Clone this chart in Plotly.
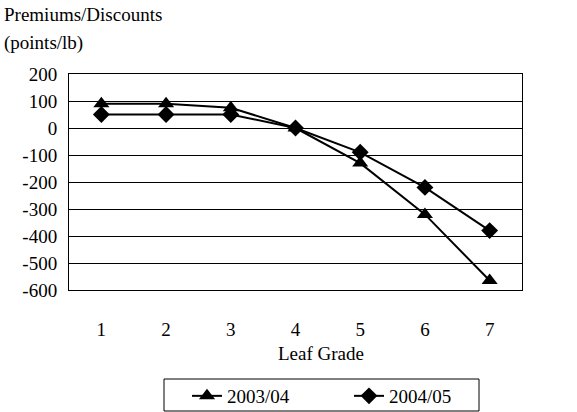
import plotly.graph_objects as go

grades = [1, 2, 3, 4, 5, 6, 7]
s2003 = [90, 90, 75, 0, -130, -320, -565]
s2004 = [50, 50, 50, 0, -90, -220, -380]
series_names = ["2003/04", "2004/05"]
y_ticks = [200, 100, 0, -100, -200, -300, -400, -500, -600]

FONT = "Liberation Serif, Times New Roman, serif"

fig = go.Figure()
fig.add_trace(go.Scatter(x=grades, y=s2003, name=series_names[0], mode="lines+markers",
                         line=dict(color="black", width=2),
                         marker=dict(symbol="triangle-up", size=14, color="black")))
fig.add_trace(go.Scatter(x=grades, y=s2004, name=series_names[1], mode="lines+markers",
                         line=dict(color="black", width=2),
                         marker=dict(symbol="diamond", size=13, color="black")))

fig.update_layout(
    width=577, height=412,
    margin=dict(l=69, r=55, t=74, b=122, autoexpand=False),
    paper_bgcolor="white", plot_bgcolor="white",
    font=dict(family=FONT, size=19, color="black"),
    showlegend=True,
    legend=dict(orientation="h", x=187/577, xref="container", xanchor="left",
                y=(412 - 377) / 412, yref="container", yanchor="top",
                borderwidth=0, bgcolor="rgba(0,0,0,0)", font=dict(size=19),
                entrywidth=117, entrywidthmode="pixels", tracegroupgap=0),
    xaxis=dict(range=[0.5, 7.5], tickmode="array", tickvals=grades,
               ticktext=[str(g) for g in grades], showgrid=False,
               showline=True, linecolor="black", linewidth=1, mirror=True,
               ticks="", ticklabelstandoff=22, zeroline=False),
    yaxis=dict(range=[-600, 200], tickmode="array", tickvals=y_ticks,
               ticktext=[str(v) for v in y_ticks],
               showgrid=True, gridcolor="black", gridwidth=1,
               showline=True, linecolor="black", linewidth=1, mirror=True,
               zeroline=True, zerolinecolor="black", zerolinewidth=1,
               ticks="", ticklabelstandoff=7),
    shapes=[dict(type="rect", xref="paper", yref="paper",
                 x0=(164 - 69) / 453, x1=(479 - 69) / 453,
                 y0=(290 - 411) / 216, y1=(290 - 379) / 216,
                 line=dict(color="black", width=1), fillcolor="rgba(0,0,0,0)")],
    annotations=[
        dict(text="Premiums/Discounts", xref="paper", yref="paper", x=-67/453, y=1 + 60/216,
             xanchor="left", yanchor="middle", showarrow=False, font=dict(size=19)),
        dict(text="(points/lb)", xref="paper", yref="paper", x=-67/453, y=1 + 31/216,
             xanchor="left", yanchor="middle", showarrow=False, font=dict(size=19)),
        dict(text="Leaf Grade", xref="paper", yref="paper", x=0.557, y=-63/216,
             xanchor="center", yanchor="middle", showarrow=False, font=dict(size=19)),
    ],
)

fig.write_html("out.html")
